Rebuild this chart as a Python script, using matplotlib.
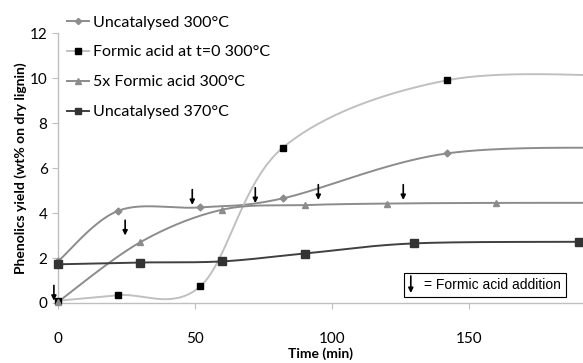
import matplotlib
matplotlib.use('Agg')
import matplotlib.pyplot as plt
from matplotlib.patches import Rectangle
import numpy as np

plt.rcParams['font.family'] = ['Lato', 'DejaVu Sans']

# series data (time in min, phenolics yield in wt% on dry lignin)
unc300_t = [0, 22, 52, 82, 142, 215]
unc300_y = [1.85, 4.1, 4.25, 4.65, 6.65, 6.9]

formic0_t = [0, 22, 52, 82, 142, 215]
formic0_y = [0.1, 0.35, 0.75, 6.9, 9.9, 10.05]

formic5_t = [0, 30, 60, 90, 120, 160, 215]
formic5_y = [0.05, 2.7, 4.15, 4.35, 4.42, 4.45, 4.45]

unc370_t = [0, 30, 60, 90, 130, 190]
unc370_y = [1.72, 1.8, 1.85, 2.2, 2.65, 2.72]

# formic acid addition arrows (time, yield at arrow tip)
arrow_t = [-1.5, 24.5, 49, 72, 95, 126]
arrow_y = [0.1, 3.0, 4.36, 4.44, 4.58, 4.58]

labels = ['Uncatalysed 300°C', 'Formic acid at t=0 300°C',
          '5x Formic acid 300°C', 'Uncatalysed 370°C']


def excel_smooth(xs, ys, n=40):
    # bezier smoothing like a spreadsheet "smoothed line"
    p = np.column_stack([xs, ys]).astype(float)
    pts = [p[0]]
    for i in range(len(p) - 1):
        p0 = p[i - 1] if i > 0 else p[i]
        p3 = p[i + 2] if i + 2 < len(p) else p[i + 1]
        c1 = p[i] + (p[i + 1] - p0) / 6
        c2 = p[i + 1] - (p3 - p[i]) / 6
        s = np.linspace(0, 1, n)[1:, None]
        seg = ((1 - s) ** 3 * p[i] + 3 * (1 - s) ** 2 * s * c1
               + 3 * (1 - s) * s ** 2 * c2 + s ** 3 * p[i + 1])
        pts.extend(seg)
    pts = np.array(pts)
    return pts[:, 0], pts[:, 1]


fig = plt.figure(figsize=(5.83, 3.63), dpi=100)
ax = fig.add_axes([0.0995, 0.1653, 0.9005, 0.7437])

styles = [
    (unc300_t, unc300_y, '#8c8c8c', 'D', '#8c8c8c', 3.5),
    (formic0_t, formic0_y, '#c0c0c0', 's', '#000000', 5),
    (formic5_t, formic5_y, '#8c8c8c', '^', '#8c8c8c', 5),
    (unc370_t, unc370_y, '#404040', 's', '#333333', 5.5),
]
handles = []
for (t, y, lc, mk, mc, ms), lab in zip(styles, labels):
    sx, sy = excel_smooth(t, y)
    ax.plot(sx, sy, color=lc, lw=1.4, zorder=2)
    ax.plot(t, y, ls='none', marker=mk, color=mc, ms=ms, zorder=3, clip_on=False)
    h, = ax.plot([], [], color=lc, lw=1.4, marker=mk, mfc=mc, mec=mc, ms=ms * 0.9)
    handles.append(h)

for t, y in zip(arrow_t, arrow_y):
    ax.annotate('', xy=(t, y), xytext=(t, y + 0.68), annotation_clip=False,
                arrowprops=dict(arrowstyle='-|>', color='black', lw=1.2,
                                mutation_scale=7, shrinkA=0, shrinkB=0), zorder=5)

ax.set_xlim(0, 191.6)
ax.set_ylim(0, 12)
ax.set_xticks([0, 50, 100, 150])
ax.set_yticks([0, 2, 4, 6, 8, 10, 12])
for s in ['top', 'right']:
    ax.spines[s].set_visible(False)
for s in ['left', 'bottom']:
    ax.spines[s].set_color('#bfbfbf')
    ax.spines[s].set_linewidth(1.0)
ax.tick_params(axis='both', colors='#bfbfbf', labelcolor='black', labelsize=11, length=4)
ax.tick_params(axis='x', pad=17)
ax.set_xlabel('Time (min)', fontsize=10, fontweight='bold', labelpad=1)
ax.set_ylabel('Phenolics yield (wt% on dry lignin)', fontsize=10, fontweight='bold', labelpad=2)

leg = fig.legend(handles, labels, loc='upper left', bbox_to_anchor=(0.104, 0.975),
                 frameon=False, fontsize=11.5, labelspacing=0.98, handlelength=1.4,
                 handletextpad=0.25, borderaxespad=0)

# formic acid addition key box
ax.add_patch(Rectangle((0.659, 0.022), 0.309, 0.089, transform=ax.transAxes,
                       fc='white', ec='black', lw=0.8, zorder=6))
ax.text(0.697, 0.066, '= Formic acid addition', transform=ax.transAxes,
        fontsize=10, family='Liberation Sans', va='center', ha='left', zorder=7)
ax.annotate('', xy=(0.672, 0.037), xytext=(0.672, 0.1), xycoords='axes fraction',
            arrowprops=dict(arrowstyle='-|>', color='black', lw=1.2,
                            mutation_scale=7, shrinkA=0, shrinkB=0), zorder=8)

fig.savefig('out.png', dpi=100)
